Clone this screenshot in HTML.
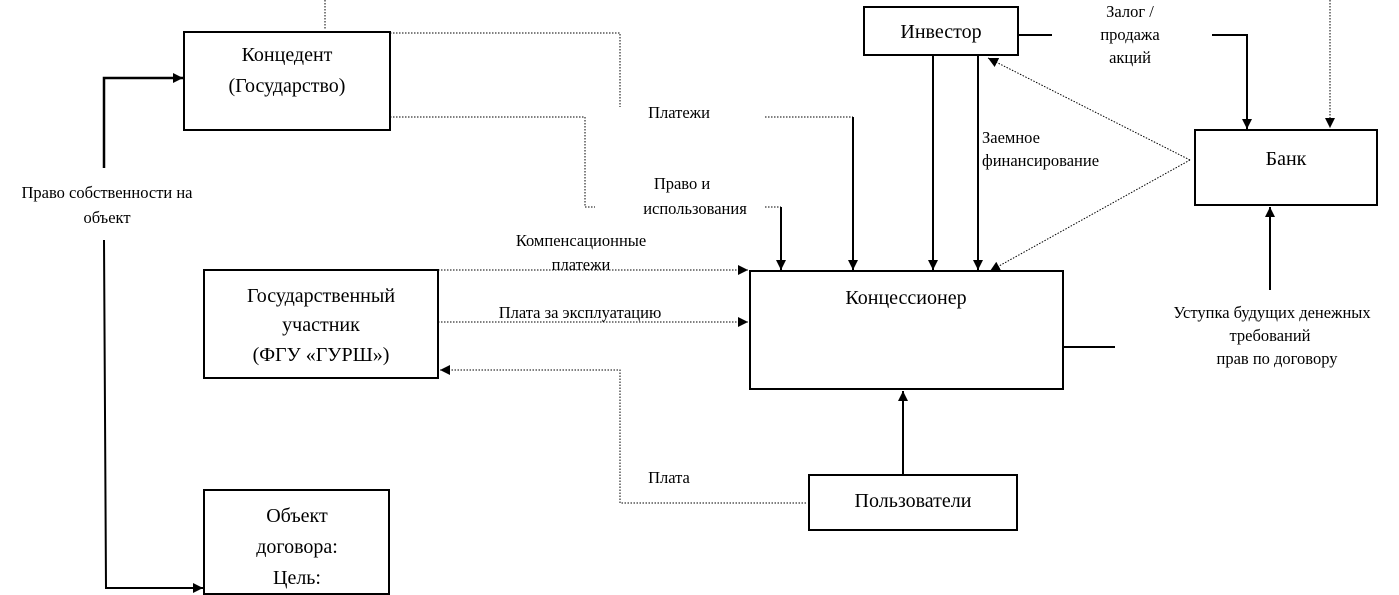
<!DOCTYPE html>
<html><head><meta charset="utf-8"><style>
html,body{margin:0;padding:0;background:#fff;}
svg{display:block;font-family:"Liberation Serif",serif;}
.b{font-size:20px}
.l{font-size:16.5px}
</style></head><body>
<svg width="1399" height="595" viewBox="0 0 1399 595" xmlns="http://www.w3.org/2000/svg">
<defs>
<marker id="a" viewBox="0 0 10 10" refX="10" refY="5" markerWidth="10" markerHeight="10" markerUnits="userSpaceOnUse" orient="auto"><path d="M0,0L10,5L0,10z" fill="#000"/></marker>
</defs>
<g fill="none" stroke="#000">
<rect x="184" y="32" width="206" height="98" stroke-width="2"/>
<rect x="864" y="7" width="154" height="48" stroke-width="2"/>
<rect x="1195" y="130" width="182" height="75" stroke-width="2"/>
<rect x="750" y="271" width="313" height="118" stroke-width="2"/>
<rect x="204" y="270" width="234" height="108" stroke-width="2"/>
<rect x="809" y="475" width="208" height="55" stroke-width="2"/>
<rect x="204" y="490" width="185" height="104" stroke-width="2"/>
<g stroke-dasharray="1.5,1.5" stroke-width="1">
<path d="M325,0V30"/>
<path d="M390,33H620V107"/>
<path d="M765,117H853"/>
<path d="M390,117H585V207H595"/>
<path d="M765,207H781"/>
<path d="M1330,0V128" marker-end="url(#a)"/>
<path d="M1190,160L988,58" marker-end="url(#a)"/>
<path d="M1190,160L990,271" marker-end="url(#a)"/>
<path d="M438,270H748" marker-end="url(#a)"/>
<path d="M438,322H748" marker-end="url(#a)"/>
<path d="M806,503H620V370H440" marker-end="url(#a)"/>
</g>
<g stroke-width="2">
<path d="M853,117V270" marker-end="url(#a)"/>
<path d="M781,207V270" marker-end="url(#a)"/>
<path d="M933,55V270" marker-end="url(#a)"/>
<path d="M978,55V270" marker-end="url(#a)"/>
<path d="M1018,35H1052"/>
<path d="M1212,35H1247V129" marker-end="url(#a)"/>
<path d="M1270,290V207" marker-end="url(#a)"/>
<path d="M1063,347H1115"/>
<path d="M903,475V391" marker-end="url(#a)"/>
<path d="M104,168V78H183" marker-end="url(#a)" stroke-width="2.5"/>
<path d="M104,240L106,588H203" marker-end="url(#a)"/>
</g>
</g>
<g text-anchor="middle" fill="#000">
<text class="b" x="287" y="61">Концедент</text>
<text class="b" x="287" y="92">(Государство)</text>
<text class="b" x="941" y="38">Инвестор</text>
<text class="b" x="1286" y="165">Банк</text>
<text class="b" x="906" y="304">Концессионер</text>
<text class="b" x="321" y="302">Государственный</text>
<text class="b" x="321" y="331">участник</text>
<text class="b" x="321" y="361">(ФГУ «ГУРШ»)</text>
<text class="b" x="913" y="507">Пользователи</text>
<text class="b" x="297" y="522">Объект</text>
<text class="b" x="297" y="553">договора:</text>
<text class="b" x="297" y="584">Цель:</text>
<text class="l" x="107" y="198">Право собственности на</text>
<text class="l" x="107" y="223">объект</text>
<text class="l" x="679" y="118">Платежи</text>
<text class="l" x="682" y="189">Право и</text>
<text class="l" x="695" y="214">использования</text>
<text class="l" x="581" y="246">Компенсационные</text>
<text class="l" x="581" y="270">платежи</text>
<text class="l" x="580" y="318">Плата за эксплуатацию</text>
<text class="l" x="669" y="483">Плата</text>
<text class="l" x="1130" y="17">Залог /</text>
<text class="l" x="1130" y="40">продажа</text>
<text class="l" x="1130" y="63">акций</text>
<text class="l" x="982" y="143" text-anchor="start">Заемное</text>
<text class="l" x="982" y="166" text-anchor="start">финансирование</text>
<text class="l" x="1272" y="318">Уступка будущих денежных</text>
<text class="l" x="1270" y="341">требований</text>
<text class="l" x="1277" y="364">прав по договору</text>
</g>
</svg>
</body></html>
